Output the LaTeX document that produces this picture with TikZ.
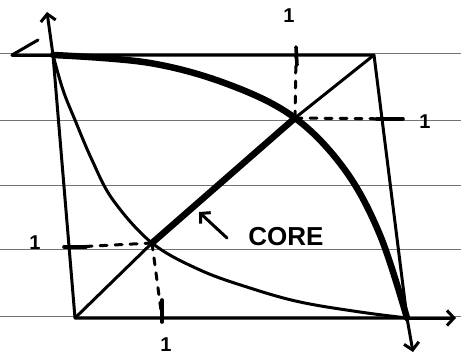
\documentclass[tikz,border=0pt]{standalone}
\usepackage{fontspec}
\setmainfont{Liberation Sans}
\usetikzlibrary{arrows.meta}
\begin{document}
\begin{tikzpicture}[x=1pt,y=-1pt,
  rule/.style={draw=black!55, line width=0.8pt},
  pen/.style={line width=3pt, line cap=round, line join=round},
  heavy/.style={line width=6.5pt, line cap=round, line join=round},
  guide/.style={line width=3pt, line cap=round, dash pattern=on 7pt off 8pt},
  tickmark/.style={line width=3.6pt, line cap=round},
  lbl/.style={font=\fontsize{20}{20}\selectfont\bfseries, inner sep=0pt},
  barb/.style={-{Straight Barb[length=7pt,width=15pt,line width=3pt]}}
]
\useasboundingbox (0,0) rectangle (461,356);
% ruled paper
\foreach \y in {53,120,185,249,316} \draw[rule] (0,\y) -- (461,\y);

% key points
\coordinate (A) at (53,55);   % top-left corner
\coordinate (B) at (374,55);  % top-right corner
\coordinate (C) at (407,318); % bottom-right corner
\coordinate (D) at (75,318);  % bottom-left corner
\coordinate (P) at (152,243); % lower crossing
\coordinate (Q) at (295,118); % upper crossing
\coordinate (L) at (12,55);
\coordinate (Ls) at (38,40);
\coordinate (Ytip) at (47,12);
\coordinate (Xtip) at (456,318);
\coordinate (Dtip) at (413,352);

% frame
\draw[pen] (A) -- (B) -- (C) -- (D) -- cycle;
\draw[pen] (L) -- (A);
\draw[pen] (L) -- (Ls);
% axes
\draw[pen,barb] (A) -- (Ytip);
\draw[pen,barb] (C) -- (Xtip);
\draw[pen,barb] (C) -- (Dtip);

% diagonal with core
\draw[pen] (D) -- (P);
\draw[pen] (Q) -- (B);
\draw[heavy] (P) -- (Q);

% thick upper curve
\draw[heavy] plot[smooth, tension=0.6] coordinates {(53,55) (150,63) (230,85) (295,118) (345,170) (380,235) (407,318)};
% thin lower curve
\draw[pen] plot[smooth, tension=0.6] coordinates {(53,55) (63,90) (75,120) (92,160) (113,200) (152,243) (200,270) (250,288) (300,302) (360,312) (407,318)};

% guides from upper crossing
\coordinate (Qt) at (296,56);
\coordinate (Qr) at (400,119);
\draw[guide] (Q) -- (Qt);
\draw[tickmark] (296,47) -- (297,65);
\draw[guide] (Q) -- (Qr);
\draw[tickmark] (377,119) -- (403,119);
\node[lbl] (q1) at (289,16) {1};
\node[lbl] (q2) at (425,122) {1};

% guides from lower crossing
\coordinate (Pl) at (75,247);
\coordinate (Pb) at (162,318);
\draw[guide] (P) -- (Pl);
\draw[tickmark] (64,247) -- (86,247);
\draw[guide] (P) -- (Pb);
\draw[tickmark] (162,300) -- (162,322);
\node[lbl] (p1) at (35,243) {1};
\node[lbl] (p2) at (166,345) {1};

% core label
\node[font=\fontsize{26}{26}\selectfont\bfseries, inner sep=0pt] (core) at (286,237) {CORE};
\coordinate (ct) at (227,238);
\coordinate (ch) at (199,212);
\draw[pen,barb] (ct) -- (ch);
\end{tikzpicture}
\end{document}
